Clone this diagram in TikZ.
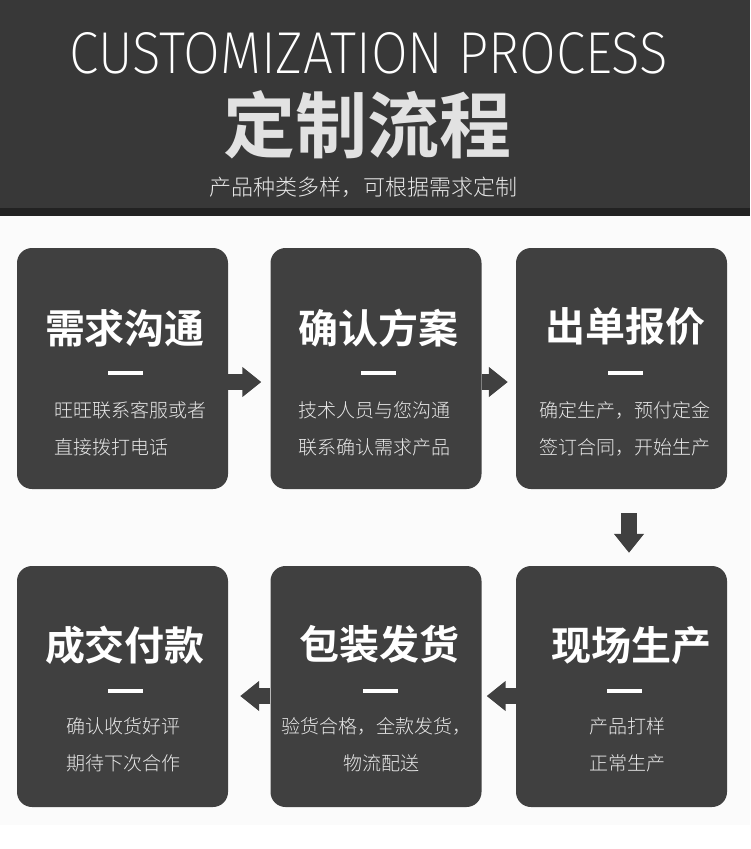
\documentclass[tikz,border=0pt]{standalone}
\usepackage{fontspec}
\usetikzlibrary{arrows.meta}
\newfontfamily\cjk{Noto Sans CJK SC}[BoldFont={Noto Sans CJK SC Bold}]
\newfontfamily\cjklight{Noto Sans CJK SC Light}
\newfontfamily\thinfont{Fira Sans ExtraLight}
\definecolor{boxc}{HTML}{404040}
\definecolor{hdr}{HTML}{383838}
\definecolor{hdrdark}{HTML}{222222}
\definecolor{bgc}{HTML}{FBFBFB}
\definecolor{subtxt}{HTML}{E8E8E8}
\definecolor{ttltxt}{HTML}{E2E2E2}
\tikzset{
  stepbox/.style={fill=boxc, rounded corners=15pt, minimum width=211pt, minimum height=241pt, inner sep=0pt},
  steptitle/.style={text=white, inner sep=0pt, font=\cjk\bfseries\fontsize{40pt}{40pt}\selectfont},
  stepbar/.style={fill=white, minimum width=35pt, minimum height=4pt, inner sep=0pt},
  steptext/.style={text=subtxt, inner sep=0pt, font=\cjklight\fontsize{19pt}{19pt}\selectfont},
  blockarrow/.style={draw=boxc, line width=16pt, -{Triangle[width=29pt,length=19pt]}}
}
\begin{document}
\begin{tikzpicture}[x=1pt,y=-1pt]
\useasboundingbox (0,0) rectangle (750,849);
\fill[white] (0,0) rectangle (750,849);
\fill[hdr] (0,0) rectangle (750,208);
\fill[hdrdark] (0,208) rectangle (750,216);
\fill[bgc] (0,216) rectangle (750,825);

% header
\node[text=white, inner sep=0pt] (en) at (369,53.5) {\resizebox{598pt}{41pt}{\thinfont CUSTOMIZATION PROCESS}};
\node[text=ttltxt, inner sep=0pt, font=\cjk\bfseries\fontsize{72pt}{72pt}\selectfont] (zh) at (367,125) {定制流程};
\node[text=subtxt, inner sep=0pt, font=\cjklight\fontsize{22pt}{22pt}\selectfont] (sub) at (363,187.5) {产品种类多样，可根据需求定制};

% boxes
\node[stepbox] (b1) at (122.5,368.5) {};
\node[stepbox] (b2) at (376,368.5) {};
\node[stepbox] (b3) at (621.5,368.5) {};
\node[stepbox] (b4) at (122.5,686.5) {};
\node[stepbox] (b5) at (376,686.5) {};
\node[stepbox] (b6) at (621.5,686.5) {};

% box 1
\node[steptitle] (t1) at (125,328) {需求沟通};
\node[stepbar] (d1) at (125.5,373) {};
\node[steptext, anchor=west] (s1a) at (54,410) {旺旺联系客服或者};
\node[steptext, anchor=west] (s1b) at (54,447) {直接拨打电话};
% box 2
\node[steptitle] (t2) at (378,328) {确认方案};
\node[stepbar] (d2) at (378,373) {};
\node[steptext] (s2a) at (374,410) {技术人员与您沟通};
\node[steptext] (s2b) at (374,447) {联系确认需求产品};
% box 3
\node[steptitle] (t3) at (625,326) {出单报价};
\node[stepbar] (d3) at (625.5,373) {};
\node[steptext] (s3a) at (624.5,410) {确定生产，预付定金};
\node[steptext] (s3b) at (624.5,447) {签订合同，开始生产};
% box 4
\node[steptitle] (t4) at (125,645) {成交付款};
\node[stepbar] (d4) at (125.5,691) {};
\node[steptext] (s4a) at (123,726) {确认收货好评};
\node[steptext] (s4b) at (123,763) {期待下次合作};
% box 5
\node[steptitle] (t5) at (379,644.5) {包装发货};
\node[stepbar] (d5) at (380,691) {};
\node[steptext] (s5a) at (376,726) {验货合格，全款发货，};
\node[steptext] (s5b) at (381,763) {物流配送};
% box 6
\node[steptitle] (t6) at (631,645) {现场生产};
\node[stepbar] (d6) at (624.5,691) {};
\node[steptext] (s6a) at (627,726) {产品打样};
\node[steptext] (s6b) at (627,763) {正常生产};

% arrows
\draw[blockarrow, shorten >=9pt] ([yshift=-13.5pt]b1.east) -- ([yshift=-13.5pt]b2.west);
\draw[blockarrow, shorten >=8pt] ([yshift=-13.5pt]b2.east) -- ([yshift=-13.5pt]b3.west);
\draw[blockarrow, shorten <=24pt, shorten >=13pt] ([xshift=7.5pt]b3.south) -- ([xshift=7.5pt]b6.north);
\draw[blockarrow, shorten >=5pt] ([yshift=-9.5pt]b6.west) -- ([yshift=-9.5pt]b5.east);
\draw[blockarrow, shorten >=12pt] ([yshift=-9.5pt]b5.west) -- ([yshift=-9.5pt]b4.east);
\end{tikzpicture}
\end{document}
